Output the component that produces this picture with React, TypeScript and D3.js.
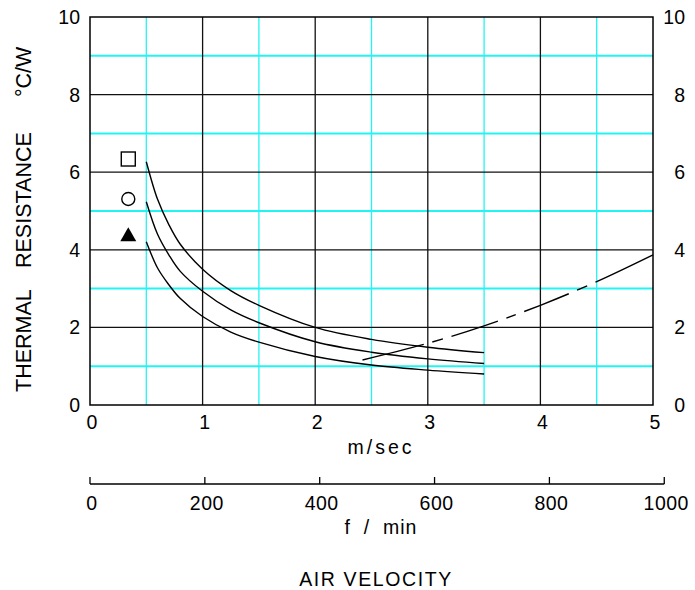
import React from "react";
import * as d3 from "d3";

// ---- data ----
const X_TICKS = [0, 1, 2, 3, 4, 5];
const Y_TICKS = [0, 2, 4, 6, 8, 10];
const F_TICKS = [0, 200, 400, 600, 800, 1000];
const GRID_MAJOR_X = [1, 2, 3, 4];
const GRID_MINOR_X = [0.5, 1.5, 2.5, 3.5, 4.5];
const GRID_MAJOR_Y = [2, 4, 6, 8];
const GRID_MINOR_Y = [1, 3, 5, 7, 9];

// air velocity (m/s)
const VELOCITY = [0.5, 0.6, 0.7, 0.8, 1.0, 1.25, 1.5, 2.0, 2.5, 3.0, 3.5];
// thermal resistance (°C/W) for each marker series
const SQUARE_R = [6.27, 5.3, 4.65, 4.15, 3.5, 2.95, 2.57, 2.0, 1.69, 1.49, 1.35];
const CIRCLE_R = [5.24, 4.4, 3.87, 3.45, 2.93, 2.45, 2.12, 1.63, 1.36, 1.19, 1.07];
const TRIANGLE_R = [4.21, 3.53, 3.1, 2.75, 2.28, 1.88, 1.62, 1.25, 1.03, 0.9, 0.8];
// dashed curve
const DASHED_V = [2.42, 3.0, 3.5, 4.0, 4.5, 5.0];
const DASHED_R = [1.16, 1.59, 2.04, 2.57, 3.18, 3.87];

const MARKER_X = 0.34;
const MARKER_Y = { square: 6.34, circle: 5.31, triangle: 4.38 };
const FPM_TO_MS = 0.0051;

const FONT = "'Liberation Sans', Arial, sans-serif";

export default function App() {
  const W = 695, H = 590;
  const left = 90, right = 653, top = 17, bottom = 405;
  const x = d3.scaleLinear().domain([0, 5]).range([left, right]);
  const y = d3.scaleLinear().domain([0, 10]).range([bottom, top]);
  const f = d3.scaleLinear().domain([0, 1000]).range([x(0), x(1000 * FPM_TO_MS)]);
  const fAxisY = 484;

  const line = d3
    .line<[number, number]>()
    .x((d) => x(d[0]))
    .y((d) => y(d[1]))
    .curve(d3.curveCatmullRom.alpha(0.5));

  const series = [SQUARE_R, CIRCLE_R, TRIANGLE_R].map(
    (rs) => VELOCITY.map((v, i) => [v, rs[i]] as [number, number])
  );
  const dashed = DASHED_V.map((v, i) => [v, DASHED_R[i]] as [number, number]);

  const cyan = "#22f4f4";
  const tickFs = 19.5;

  return (
    <svg
      width={W}
      height={H}
      style={{ position: "absolute", left: 0, top: 0, background: "#fff" }}
      fontFamily={FONT}
    >
      {/* minor grid (cyan) */}
      {GRID_MINOR_Y.map((v) => (
        <line key={"my" + v} x1={left} x2={right} y1={y(v)} y2={y(v)} stroke={cyan} strokeWidth={2} />
      ))}
      {GRID_MINOR_X.map((v) => (
        <line key={"mx" + v} x1={x(v)} x2={x(v)} y1={top} y2={bottom} stroke={cyan} strokeWidth={1.3} />
      ))}
      {/* major grid (black) */}
      {GRID_MAJOR_Y.map((v) => (
        <line key={"gy" + v} x1={left} x2={right} y1={y(v)} y2={y(v)} stroke="#111" strokeWidth={1.3} />
      ))}
      {GRID_MAJOR_X.map((v) => (
        <line key={"gx" + v} x1={x(v)} x2={x(v)} y1={top} y2={bottom} stroke="#111" strokeWidth={1.3} />
      ))}
      {/* frame */}
      <rect x={left} y={top} width={right - left} height={bottom - top} fill="none" stroke="#000" strokeWidth={1.5} />

      {/* curves */}
      {series.map((s, i) => (
        <path key={"c" + i} d={line(s) || ""} fill="none" stroke="#000" strokeWidth={1.4} />
      ))}
      <path
        d={line(dashed) || ""}
        fill="none"
        stroke="#000"
        strokeWidth={1.4}
        strokeDasharray="63 9 11 9 49 9 10 9 48 9 11 9 90"
      />

      {/* markers */}
      <rect
        x={x(MARKER_X) - 7}
        y={y(MARKER_Y.square) - 7}
        width={14}
        height={14}
        fill="none"
        stroke="#000"
        strokeWidth={1.4}
      />
      <circle cx={x(MARKER_X)} cy={y(MARKER_Y.circle)} r={6.5} fill="none" stroke="#000" strokeWidth={1.4} />
      <path
        d={d3.symbol(d3.symbolTriangle, 110)() || ""}
        transform={`translate(${x(MARKER_X)},${y(MARKER_Y.triangle) + 1.5})`}
        fill="#000"
      />

      {/* left y ticks */}
      {Y_TICKS.map((v) => (
        <text key={"ly" + v} x={80} y={y(v) + 7} fontSize={tickFs} textAnchor="end" fill="#000">
          {v}
        </text>
      ))}
      {/* right y ticks */}
      {Y_TICKS.map((v) => (
        <text key={"ry" + v} x={685} y={y(v) + 7} fontSize={tickFs} textAnchor="end" fill="#000">
          {v}
        </text>
      ))}
      {/* x ticks m/s */}
      {X_TICKS.map((v) => (
        <text key={"xt" + v} x={x(v) + 2} y={bottom + 24} fontSize={tickFs} textAnchor="middle" fill="#000">
          {v}
        </text>
      ))}
      <text x={381} y={454} fontSize={tickFs} textAnchor="middle" fill="#000" letterSpacing={3}>
        m/sec
      </text>

      {/* f/min axis */}
      <line x1={f(0)} x2={f(1000)} y1={fAxisY} y2={fAxisY} stroke="#000" strokeWidth={1.3} />
      {F_TICKS.map((v) => (
        <g key={"ft" + v}>
          <line x1={f(v)} x2={f(v)} y1={fAxisY - 7} y2={fAxisY} stroke="#000" strokeWidth={1.3} />
          <text x={f(v) + 2} y={fAxisY + 26} fontSize={tickFs} textAnchor="middle" fill="#000" letterSpacing={0.5}>
            {v}
          </text>
        </g>
      ))}
      <text x={381} y={534} fontSize={tickFs} textAnchor="middle" fill="#000" xmlSpace="preserve" letterSpacing={1}>
        f  /  min
      </text>
      <text x={376} y={586} fontSize={tickFs} textAnchor="middle" fill="#000" letterSpacing={1.6}>
        AIR VELOCITY
      </text>

      {/* y title */}
      <g transform="translate(31,0) rotate(-90)">
        <text x={-392} y={0} fontSize={21.5} fill="#000">THERMAL</text>
        <text x={-268} y={0} fontSize={21.5} fill="#000">RESISTANCE</text>
        <text x={-97} y={0} fontSize={21.5} fill="#000">°C/W</text>
      </g>
    </svg>
  );
}
